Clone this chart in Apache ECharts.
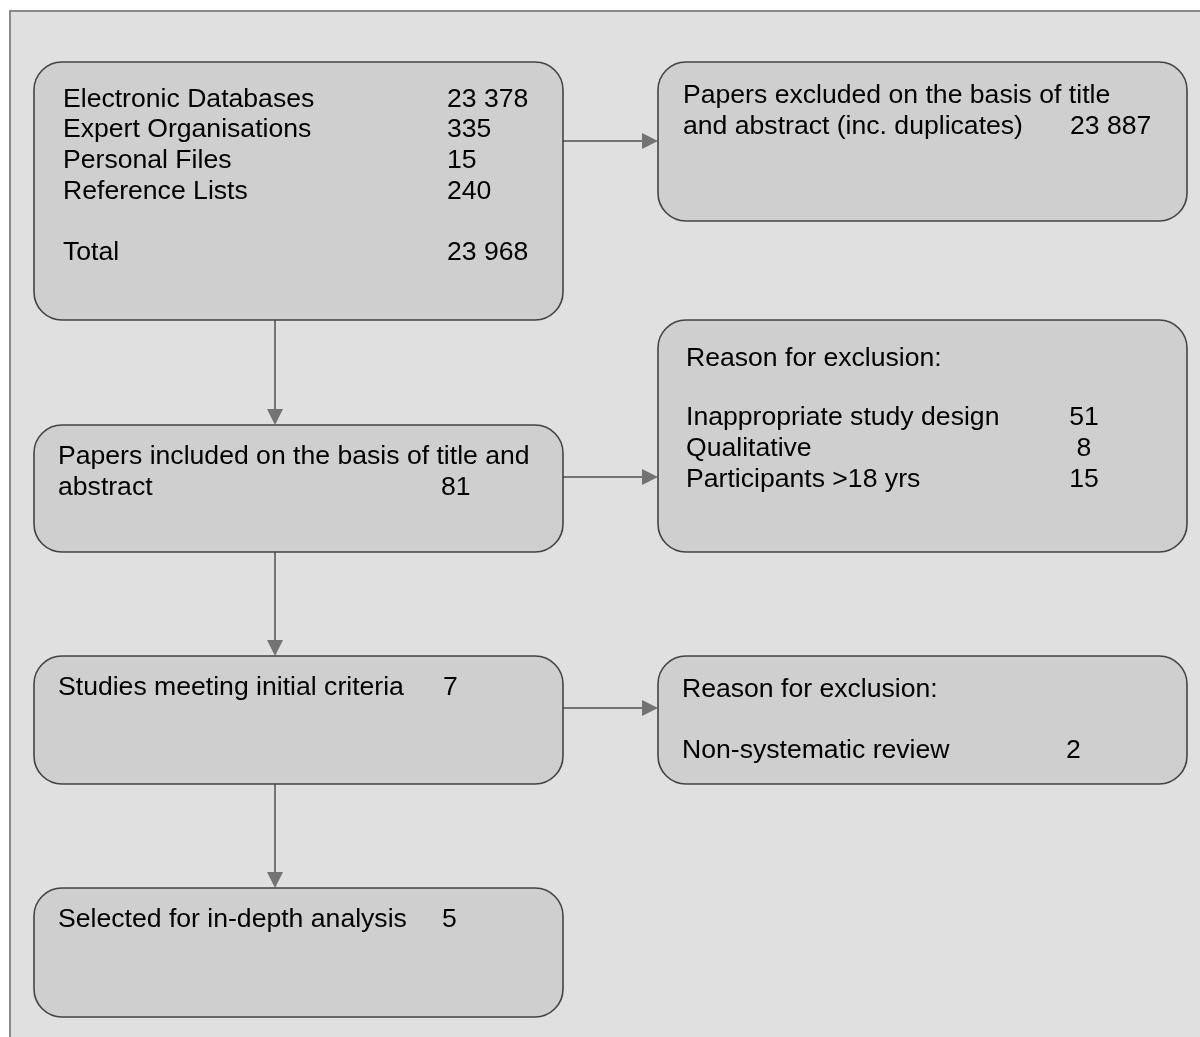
<!DOCTYPE html>
<html>
<head>
<meta charset="utf-8">
<script src="https://cdn.jsdelivr.net/npm/echarts@6/dist/echarts.min.js"></script>
<style>html,body{margin:0;padding:0;background:#fff}#c{width:1200px;height:1037px}</style>
</head>
<body>
<div id="c"></div>
<script>
// ---- content / values ----
const sourceLabels = ['Electronic Databases', 'Expert Organisations', 'Personal Files', 'Reference Lists'];
const sourceCounts = [23378, 335, 15, 240];
const totalLabel = 'Total';
const totalCount = 23968;
const excludedTitleLines = ['Papers excluded on the basis of title', 'and abstract (inc. duplicates)'];
const excludedTitleCount = 23887;
const stageLabels = [['Papers included on the basis of title and', 'abstract'], ['Studies meeting initial criteria'], ['Selected for in-depth analysis']];
const stageCounts = [81, 7, 5];
const reasonHeader = 'Reason for exclusion:';
const reasons1 = ['Inappropriate study design', 'Qualitative', 'Participants >18 yrs'];
const reasons1Counts = [51, 8, 15];
const reasons2 = ['Non-systematic review'];
const reasons2Counts = [2];

function fmt(n) { return String(n).replace(/\B(?=(\d{3})+(?!\d))/g, ' '); }

// ---- layout (positions in canvas units) ----
const W = 1200, H = 1037;
const L = { x0: 34, x1: 563 }, R = { x0: 658, x1: 1187 };
const FONT = '"Liberation Sans", Arial, sans-serif';
const FS = 26.6;
const TY = 1.5; // text vertical nudge

const boxes = [];
// Box A: sources
(function () {
  const t = [];
  sourceLabels.forEach((s, i) => {
    const y = [98, 128, 159, 190][i];
    t.push({ text: s, x: 63, y: y });
    t.push({ text: fmt(sourceCounts[i]), x: 447, y: y });
  });
  t.push({ text: totalLabel, x: 63, y: 251 });
  t.push({ text: fmt(totalCount), x: 447, y: 251 });
  boxes.push({ x0: L.x0, x1: L.x1, y0: 62, y1: 320, texts: t });
})();
// Box B
boxes.push({ x0: R.x0, x1: R.x1, y0: 62, y1: 221, texts: [
  { text: excludedTitleLines[0], x: 683, y: 94 },
  { text: excludedTitleLines[1], x: 683, y: 125 },
  { text: fmt(excludedTitleCount), x: 1070, y: 125 }
]});
// Stage boxes
const stageY = [[425, 552], [656, 784], [888, 1017]];
const stageNumX = [441, 443, 442];
stageLabels.forEach((lines, i) => {
  const t = [];
  const y0 = stageY[i][0];
  lines.forEach((ln, j) => t.push({ text: ln, x: 58, y: y0 + 30 + j * 31 }));
  t.push({ text: fmt(stageCounts[i]), x: stageNumX[i], y: y0 + 30 + (lines.length - 1) * 31 });
  boxes.push({ x0: L.x0, x1: L.x1, y0: stageY[i][0], y1: stageY[i][1], texts: t });
});
// Box D
(function () {
  const t = [{ text: reasonHeader, x: 686, y: 357 }];
  reasons1.forEach((r, i) => {
    const y = 416 + i * 31;
    t.push({ text: r, x: 686, y: y });
    t.push({ text: fmt(reasons1Counts[i]), x: 1084, y: y, align: 'center' });
  });
  boxes.push({ x0: R.x0, x1: R.x1, y0: 320, y1: 552, texts: t });
})();
// Box F
(function () {
  const t = [{ text: reasonHeader, x: 682, y: 688 }];
  reasons2.forEach((r, i) => {
    t.push({ text: r, x: 682, y: 749 });
    t.push({ text: fmt(reasons2Counts[i]), x: 1066, y: 749 });
  });
  boxes.push({ x0: R.x0, x1: R.x1, y0: 656, y1: 784, texts: t });
})();

const AX = 275;
const arrows = [
  [AX, 320, AX, 425], [AX, 552, AX, 656], [AX, 784, AX, 888],
  [L.x1, 141, R.x0, 141], [L.x1, 477, R.x0, 477], [L.x1, 708, R.x0, 708]
];

const chart = echarts.init(document.getElementById('c'), null, { renderer: 'canvas' });
chart.setOption({
  backgroundColor: '#ffffff',
  animation: false,
  grid: { left: 0, right: 0, top: 0, bottom: 0 },
  xAxis: { type: 'value', min: 0, max: W, show: false },
  yAxis: { type: 'value', min: 0, max: H, inverse: true, show: false },
  series: [
    {
      type: 'custom', z: 1, silent: true,
      data: [[10, 11]],
      renderItem: function (params, api) {
        const p = api.coord([10, 11]);
        const q = api.coord([W + 5, H + 5]);
        return { type: 'rect', shape: { x: p[0], y: p[1], width: q[0] - p[0], height: q[1] - p[1] },
          style: { fill: '#e0e0e0', stroke: '#8a8a8a', lineWidth: 2 } };
      }
    },
    {
      type: 'custom', z: 2, silent: true,
      data: arrows,
      renderItem: function (params, api) {
        const a = arrows[params.dataIndex];
        const p = api.coord([a[0], a[1]]), q = api.coord([a[2], a[3]]);
        const dx = q[0] - p[0], dy = q[1] - p[1];
        const len = Math.sqrt(dx * dx + dy * dy);
        const ux = dx / len, uy = dy / len;
        const hl = 16, hw = 8;
        const bx = q[0] - ux * hl, by = q[1] - uy * hl;
        return { type: 'group', children: [
          { type: 'line', shape: { x1: p[0], y1: p[1], x2: bx, y2: by }, style: { stroke: '#737373', lineWidth: 2 } },
          { type: 'polygon', shape: { points: [[q[0], q[1]], [bx - uy * hw, by + ux * hw], [bx + uy * hw, by - ux * hw]] }, style: { fill: '#737373' } }
        ]};
      }
    },
    {
      type: 'custom', z: 3, silent: true,
      data: boxes.map((b, i) => i),
      renderItem: function (params, api) {
        const b = boxes[params.dataIndex];
        const p0 = api.coord([b.x0, b.y0]), p1 = api.coord([b.x1, b.y1]);
        const children = [{
          type: 'rect',
          shape: { x: p0[0], y: p0[1], width: p1[0] - p0[0], height: p1[1] - p0[1], r: 28 },
          style: { fill: '#cfcfcf', stroke: '#444444', lineWidth: 1.6 }
        }];
        b.texts.forEach(t => {
          const c = api.coord([t.x, t.y + TY]);
          children.push({ type: 'text', x: c[0], y: c[1], style: {
            text: t.text, fill: '#000', font: FS + 'px ' + FONT,
            textAlign: t.align || 'left', textVerticalAlign: 'middle'
          }});
        });
        return { type: 'group', children: children };
      }
    }
  ]
});
</script>
</body>
</html>
